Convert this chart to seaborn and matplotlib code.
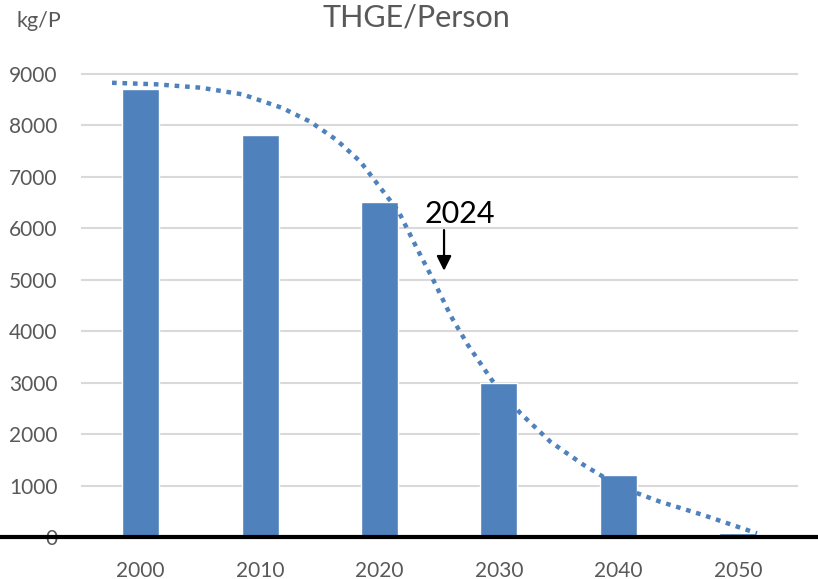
import numpy as np
import matplotlib
matplotlib.use("Agg")
import matplotlib.pyplot as plt
import seaborn as sns

# bar data
years = ["2000", "2010", "2020", "2030", "2040", "2050"]
thge = [8700, 7800, 6500, 3000, 1200, 80]

# dotted trend curve (x in category units)
trend_x = [-0.24, 0.13, 0.50, 0.85, 1.18, 1.42, 1.64, 1.84, 2.00, 2.16,
           2.32, 2.45, 2.60, 2.74, 2.94, 3.18, 3.43, 3.71, 4.01, 4.35,
           4.71, 5.16]
trend_y = [8820, 8790, 8725, 8596, 8336, 8064, 7709, 7288, 6802, 6317,
           5573, 4990, 4278, 3728, 3049, 2402, 1851, 1398, 977, 685,
           427, 72]

# arrow marking 2024
arrow_x = 2.54
arrow_top = 5960
arrow_bottom = 5170

bar_color = "#4F81BD"
text_gray = "#595959"

sns.set_theme(style="white")
plt.rcParams["font.family"] = ["Lato", "DejaVu Sans"]

fig = plt.figure(figsize=(8.18, 5.79), dpi=100)
ax = fig.add_axes([0.099, 0.0725, 0.876, 0.805])

sns.barplot(x=years, y=thge, color=bar_color, saturation=1, width=0.31,
            ax=ax, zorder=2)
ax.plot(trend_x, trend_y, color=bar_color, linewidth=3.2,
        linestyle=(0, (1.05, 1.3)), dash_capstyle="butt", zorder=3)

ax.set_xlim(-0.5, 5.5)
ax.set_ylim(0, 9050)
ax.set_yticks(np.arange(0, 9001, 1000))
ax.yaxis.grid(True, color="#d9d9d9", linewidth=1.5, zorder=0)
ax.set_axisbelow(True)
sns.despine(ax=ax, left=True, bottom=True)
ax.tick_params(axis="y", length=0, pad=17, labelsize=15, labelcolor=text_gray)
ax.tick_params(axis="x", length=0, pad=17, labelsize=15, labelcolor=text_gray)
ax.set_xlabel("")
ax.set_ylabel("")

# thick black base line across the whole width
ax.axhline(0, xmin=-0.15, xmax=1.05, color="black", linewidth=3.0,
           clip_on=False, zorder=4)

ax.annotate("", xy=(arrow_x, arrow_bottom), xytext=(arrow_x, arrow_top),
            arrowprops=dict(arrowstyle="-|>", color="black", lw=1.6,
                            mutation_scale=22, shrinkA=0, shrinkB=0))
ax.text(2.67, 6090, "2024", ha="center", va="baseline", fontsize=22,
        color="black")

fig.text(0.509, 0.954, "THGE/Person", ha="center", va="baseline",
         fontsize=22, color=text_gray)
fig.text(0.047, 0.954, "kg/P", ha="center", va="baseline",
         fontsize=15.5, color=text_gray)

fig.savefig("out.png", dpi=100)
